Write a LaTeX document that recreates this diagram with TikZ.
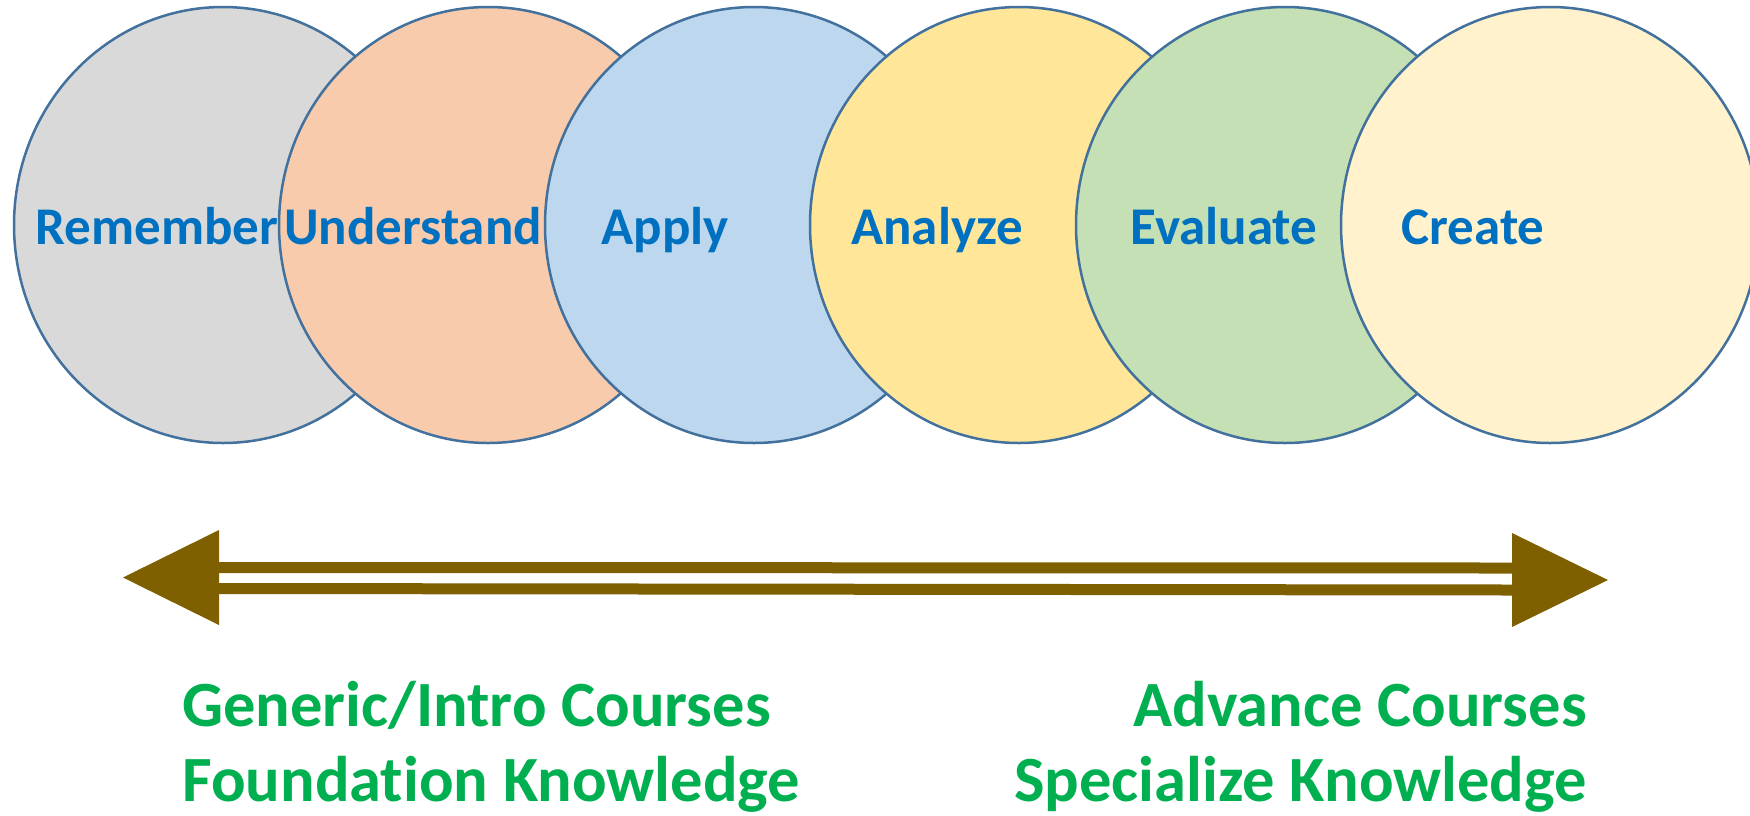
\documentclass[tikz,border=0pt]{standalone}
\usepackage{fontspec}
\setmainfont{Carlito}[Ligatures=NoCommon, RawFeature={-liga;-dlig}]
\usetikzlibrary{shapes.geometric}
\definecolor{edgeblue}{HTML}{41719C}
\definecolor{lblblue}{HTML}{0070C0}
\definecolor{lblgreen}{HTML}{00B050}
\definecolor{arrbrown}{HTML}{7F6000}
\definecolor{cRem}{HTML}{D9D9D9}
\definecolor{cUnd}{HTML}{F8CBAD}
\definecolor{cApp}{HTML}{BDD7EE}
\definecolor{cAna}{HTML}{FFE699}
\definecolor{cEva}{HTML}{C5E0B4}
\definecolor{cCre}{HTML}{FFF2CC}
\tikzset{
  bubble/.style={ellipse, draw=edgeblue, line width=2.5pt, minimum width=418pt, minimum height=436pt, inner sep=0pt},
  level/.style={text=lblblue, font=\fontsize{53}{63}\selectfont\bfseries, anchor=base, inner sep=0pt},
  course/.style={text=lblgreen, font=\fontsize{64.5}{77}\selectfont\bfseries, inner sep=0pt},
  shaft/.style={draw=arrbrown, line width=11pt},
  head/.style={fill=arrbrown, draw=none}
}
\begin{document}
\begin{tikzpicture}[x=1pt,y=-1pt]
\useasboundingbox (0,0) rectangle (1750,815);
\fill[white] (0,0) rectangle (1750,815);
\begin{scope}
\clip (0,0) rectangle (1750,815);
\node[bubble, fill=cRem] (e1) at (223,225) {};
\node[bubble, fill=cUnd] (e2) at (488,225) {};
\node[bubble, fill=cApp] (e3) at (754,225) {};
\node[bubble, fill=cAna] (e4) at (1019,225) {};
\node[bubble, fill=cEva] (e5) at (1285,225) {};
\node[bubble, fill=cCre] (e6) at (1550,225) {};
\end{scope}
\node[level] (t1) at (157,244) {Remember};
\node[level] (t2) at (413,244) {Understand};
\node[level] (t3) at (665,244) {Apply};
\node[level] (t4) at (937,244) {Analyze};
\node[level] (t5) at (1224,244) {Evaluate};
\node[level] (t6) at (1473,244) {Create};
% double-headed arrow
\coordinate (Ltip) at (123,577.5);
\coordinate (Rtip) at (1608,580);
\fill[head] (Ltip) -- (219,530) -- (219,625) -- cycle;
\fill[head] (Rtip) -- (1512,533) -- (1512,627) -- cycle;
\draw[shaft] (218,567.5) -- (1513,568);
\draw[shaft] (218,588.5) -- (1513,590);
% course labels
\node[course, anchor=base west] (g1) at (182,726) {Generic/Intro Courses};
\node[course, anchor=base west] (g2) at (182,801) {Foundation Knowledge};
\node[course, anchor=base east] (a1) at (1587,726) {Advance Courses};
\node[course, anchor=base east] (a2) at (1587,801) {Specialize Knowledge};
\end{tikzpicture}
\end{document}
